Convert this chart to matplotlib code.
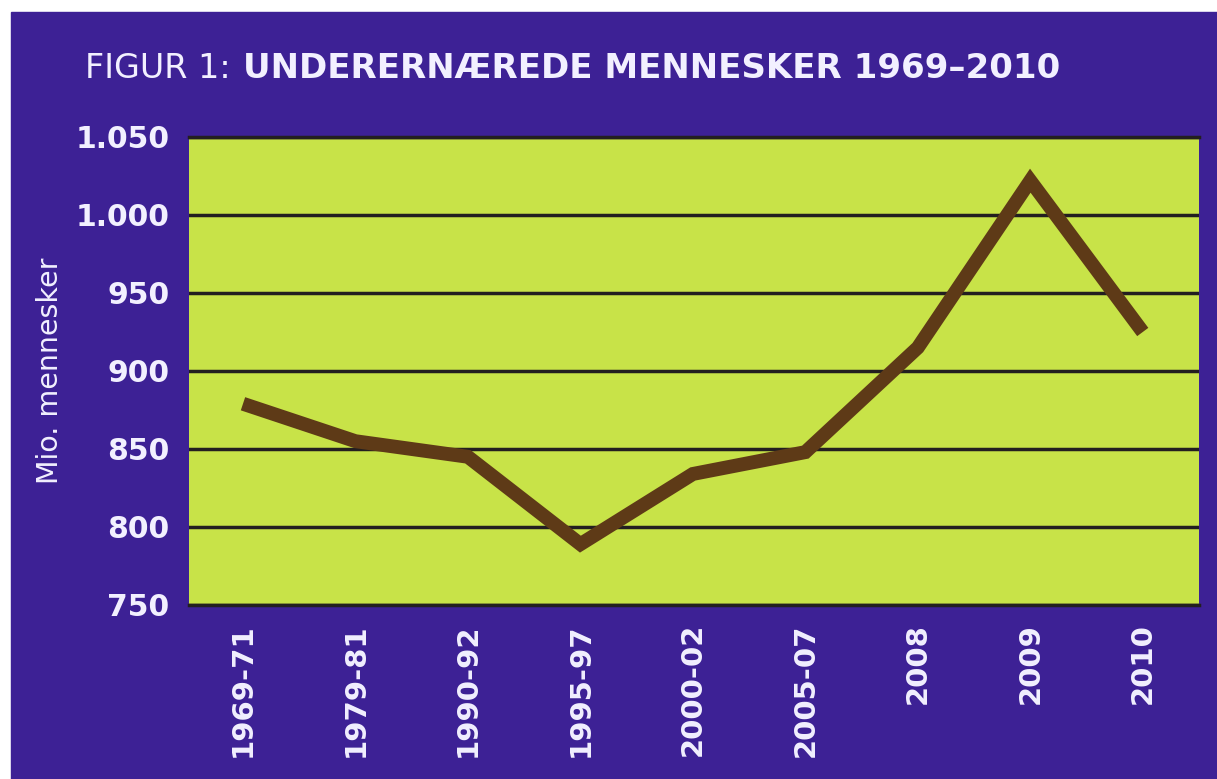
import matplotlib.pyplot as plt
from matplotlib.patches import Rectangle

perioder = ["1969-71", "1979-81", "1990-92", "1995-97", "2000-02",
            "2005-07", "2008", "2009", "2010"]
mio = [879, 855, 845, 789, 834, 848, 915, 1022, 925]
yticks = [750, 800, 850, 900, 950, 1000, 1050]
ytick_labels = ["750", "800", "850", "900", "950", "1.000", "1.050"]

PURPLE = "#3d2195"
LIME = "#c8e348"
BROWN = "#5e3a17"
TXT = "#f2f0ff"

W, H = 1217, 779
fig = plt.figure(figsize=(W / 100, H / 100), dpi=100, facecolor="white")

# purple panel with a thin white margin on top and left
fig.patches.append(Rectangle((11 / W, 0), 1 - 11 / W, 1 - 12 / H,
                             transform=fig.transFigure, color=PURPLE, zorder=-1))

ax = fig.add_axes([189 / W, 1 - 605 / H, (1199 - 189) / W, (605 - 137) / H])
ax.set_facecolor(LIME)

x = list(range(len(perioder)))
ax.plot(x, mio, color=BROWN, lw=10, solid_joinstyle="miter", solid_capstyle="butt", zorder=3)

ax.set_xlim(-0.48, 8.5)
ax.set_ylim(750, 1050)
ax.set_yticks(yticks)
ax.set_yticklabels(ytick_labels)
ax.set_xticks(x)
ax.set_xticklabels(perioder, rotation=90)
ax.yaxis.grid(True, color="#231f20", lw=2.5, zorder=2)
ax.set_axisbelow(False)

for s in ["left", "right"]:
    ax.spines[s].set_visible(False)
for s in ["top", "bottom"]:
    ax.spines[s].set_color("#231f20")
    ax.spines[s].set_linewidth(2.5)

ax.tick_params(axis="both", length=0, colors=TXT)
ax.tick_params(axis="y", pad=14, labelsize=21.5)
ax.tick_params(axis="x", pad=13, labelsize=21)
for t in ax.get_xticklabels() + ax.get_yticklabels():
    t.set_fontweight("bold")

ax.set_ylabel("Mio. mennesker", color=TXT, fontsize=20.5, labelpad=8)

fig.text(85 / W, 1 - 68 / H, "FIGUR 1: ", color=TXT, fontsize=24,
         va="center", ha="left")
fig.text(243 / W, 1 - 68 / H, "UNDERERNÆREDE MENNESKER 1969–2010", color=TXT,
         fontsize=24.5, fontweight="bold", va="center", ha="left")

fig.savefig("out.png", dpi=100)
